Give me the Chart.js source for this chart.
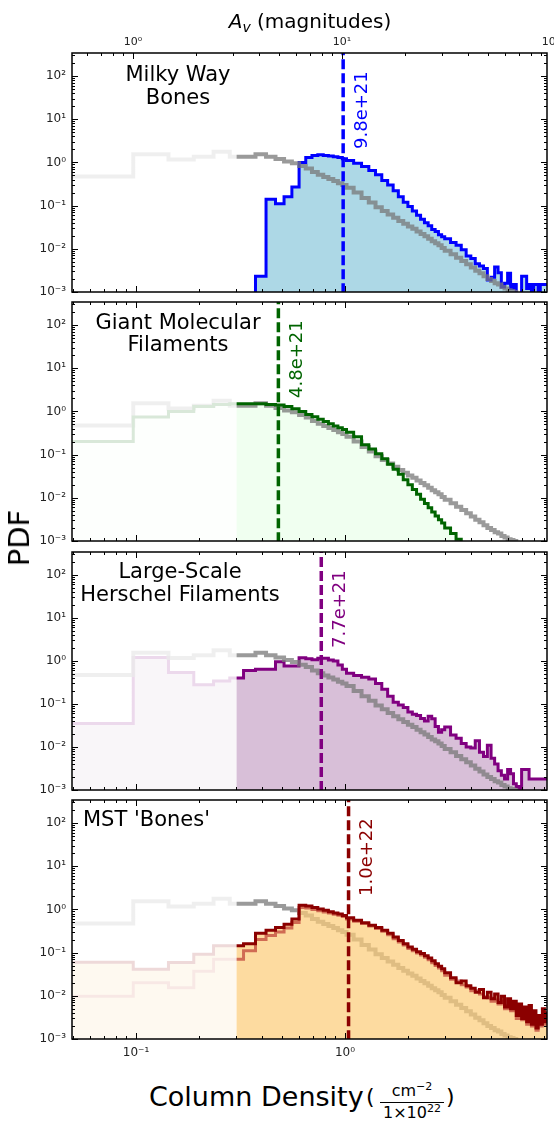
<!DOCTYPE html>
<html><head><meta charset="utf-8">
<script src="https://cdn.jsdelivr.net/npm/chart.js@4.4.1/dist/chart.umd.min.js"></script>
<style>
html,body{margin:0;padding:0;background:#fff;}
body{width:554px;height:1124px;position:relative;overflow:hidden;font-family:"DejaVu Sans",sans-serif;}
canvas{position:absolute;left:0;}
.lbl{position:absolute;white-space:nowrap;color:#000;}
</style></head><body>
<canvas id="c0" width="554" height="305" style="top:0px"></canvas>
<canvas id="c1" width="554" height="264" style="top:290px"></canvas>
<canvas id="c2" width="554" height="263" style="top:540px"></canvas>
<canvas id="c3" width="554" height="282" style="top:788px"></canvas>

<div class="lbl" style="left:0;width:620px;top:8px;text-align:center;font-size:20px;line-height:26px;"><i>A</i><i style="font-size:14px;position:relative;top:4px;">v</i> (magnitudes)</div>
<div class="lbl" style="left:19px;top:538px;transform:translate(-50%,-50%) rotate(-90deg);font-size:29px;line-height:34px;">PDF</div>
<div class="lbl" style="left:149px;top:1081px;font-size:27px;line-height:32px;">Column Density</div>
<div class="lbl" style="left:366px;top:1083px;font-size:22px;line-height:28px;">(</div>
<div class="lbl" style="left:380px;top:1082px;width:64px;text-align:center;font-size:16px;">
  <div style="line-height:18px;">cm<span style="font-size:11px;position:relative;top:-6px;">−2</span></div>
  <div style="line-height:18px;border-top:1px solid #000;padding-top:1px;">1×10<span style="font-size:11px;position:relative;top:-6px;">22</span></div>
</div>
<div class="lbl" style="left:446px;top:1083px;font-size:22px;line-height:28px;">)</div>

<script>
// ---------------- data ----------------
const binEdges = [0.04, 0.097, 0.143, 0.189, 0.235, 0.281, 0.327, 0.373, 0.419, 0.465,
  0.511, 0.557, 0.603, 0.649, 0.695, 0.741, 0.787, 0.833, 0.879, 0.925,
  0.971, 1.017, 1.1, 1.2, 1.3, 1.4, 1.5, 1.6, 1.7, 1.8,
  1.9, 2.0, 2.1, 2.2, 2.3, 2.4, 2.5, 2.6, 2.7, 2.8,
  2.9, 3.0, 3.2, 3.4, 3.6, 3.8, 4.0, 4.2, 4.4, 4.6,
  4.8, 5.0, 5.2, 5.4, 5.6, 5.8, 6.0, 6.2, 6.4, 6.6,
  6.8, 7.0, 7.2, 7.4, 7.6, 7.8, 8.0, 8.2, 8.4, 8.6,
  8.8, 9.0, 9.2, 9.4];

const allPDF = [0.47, 1.55, 1.17, 1.35, 1.76, 1.35, 1.35, 1.55, 1.35, 1.2,
  1.05, 0.95, 0.82, 0.72, 0.6, 0.52, 0.46, 0.41, 0.37, 0.33,
  0.3, 0.26, 0.2, 0.15, 0.118, 0.092, 0.075, 0.062, 0.052, 0.044,
  0.038, 0.033, 0.029, 0.025, 0.022, 0.0195, 0.017, 0.015, 0.0135, 0.012,
  0.0105, 0.009, 0.0075, 0.0062, 0.0052, 0.0044, 0.0037, 0.0031, 0.0027, 0.0023,
  0.002, 0.0018, 0.0016, 0.0015, 0.0013, 0.0012, 0.0011, 0.00105, 0.001, 0.0009,
  0.00085, 0.0007, 0.0004, 0.0004, 0.0004, 0.0004, 0.0004, 0.0004, 0.0004, 0.0004,
  0.0004, 0.0004, 0.0004];

const bonesPDF = [null, null, null, null, null, null, 0.0001, 0.0023, 0.14, 0.11,
  0.16, 0.27, 1.0, 1.3, 1.45, 1.5, 1.45, 1.4, 1.35, 1.3,
  1.22, 1.1, 0.95, 0.8, 0.65, 0.52, 0.38, 0.3, 0.22, 0.16,
  0.12, 0.095, 0.075, 0.06, 0.048, 0.04, 0.034, 0.028, 0.025, 0.021,
  0.019, 0.017, 0.014, 0.012, 0.0095, 0.0068, 0.006, 0.0045, 0.004, 0.0035,
  0.0019, 0.0022, 0.0038, 0.0028, 0.0013, 0.0016, 0.0027, 0.0012, 0.0015, 0.0004,
  0.0004, 0.0023, 0.0023, 0.0012, 0.0015, 0.0004, 0.0015, 0.0015, 0.0004, 0.0015,
  0.0015, 0.0015, 0.0015];

const gmfPDF = [0.2, 0.74, 1.0, 1.3, 1.45, 1.5, 1.5, 1.5, 1.45, 1.4,
  1.3, 1.15, 1.0, 0.85, 0.75, 0.66, 0.58, 0.52, 0.46, 0.42,
  0.38, 0.33, 0.26, 0.17, 0.135, 0.105, 0.08, 0.06, 0.046, 0.035,
  0.026, 0.02, 0.0155, 0.012, 0.0093, 0.0074, 0.0059, 0.0047, 0.0038, 0.0031,
  0.0026, 0.002, 0.0015, 0.0011, 0.0009, 0.0004, 0.0004, 0.0004, 0.0004, 0.0004,
  0.0004, 0.0004, 0.0004, 0.0004, 0.0004, 0.0004, 0.0004, 0.0004, 0.0004, 0.0004,
  0.0004, 0.0004, 0.0004, 0.0004, 0.0004, 0.0004, 0.0004, 0.0004, 0.0004, 0.0004,
  0.0004, 0.0004, 0.0004];

const herschelPDF = [0.035, 1.2, 0.54, 0.28, 0.34, 0.4, 0.6, 0.64, 0.64, 0.96,
  0.76, 0.76, 1.19, 1.12, 1.06, 1.15, 1.15, 1.05, 1.0, 0.8,
  0.64, 0.52, 0.46, 0.42, 0.38, 0.3, 0.22, 0.15, 0.11, 0.095,
  0.083, 0.065, 0.058, 0.054, 0.046, 0.04, 0.052, 0.045, 0.03, 0.022,
  0.025, 0.029, 0.019, 0.016, 0.012, 0.01, 0.0095, 0.014, 0.0075, 0.006,
  0.011, 0.0055, 0.004, 0.0028, 0.0022, 0.0018, 0.003, 0.0024, 0.0014, 0.0012,
  0.0011, 0.003, 0.003, 0.003, 0.0018, 0.0018, 0.0018, 0.0018, 0.0018, 0.0018,
  0.0018, 0.0018, 0.0018];

const mstPDF_A = [0.06, 0.041, 0.059, 0.092, 0.143, 0.143, 0.16, 0.28, 0.33, 0.38,
  0.45, 0.6, 1.25, 1.2, 1.1, 1.02, 0.95, 0.88, 0.82, 0.78,
  0.72, 0.64, 0.56, 0.49, 0.43, 0.38, 0.33, 0.28, 0.23, 0.19,
  0.16, 0.135, 0.12, 0.105, 0.095, 0.085, 0.075, 0.065, 0.055, 0.048,
  0.042, 0.034, 0.026, 0.02, 0.022, 0.017, 0.015, 0.012, 0.014, 0.009,
  0.012, 0.0085, 0.011, 0.007, 0.0098, 0.0055, 0.0085, 0.005, 0.0075, 0.0035,
  0.0065, 0.003, 0.0055, 0.0025, 0.006, 0.0022, 0.0045, 0.0018, 0.0035, 0.0022,
  0.005, 0.0025, 0.004];

const mstPDF_B = [0.0098, 0.02, 0.0154, 0.037, 0.07, 0.07, 0.11, 0.2, 0.25, 0.3,
  0.37, 0.5, 1.1, 1.08, 1.0, 0.93, 0.87, 0.82, 0.77, 0.73,
  0.68, 0.6, 0.53, 0.47, 0.41, 0.36, 0.31, 0.26, 0.21, 0.175,
  0.15, 0.125, 0.11, 0.098, 0.088, 0.078, 0.068, 0.058, 0.05, 0.044,
  0.038, 0.03, 0.024, 0.022, 0.018, 0.016, 0.013, 0.013, 0.011, 0.0095,
  0.009, 0.0075, 0.008, 0.0065, 0.0075, 0.005, 0.006, 0.0045, 0.005, 0.003,
  0.0045, 0.0028, 0.0038, 0.0022, 0.0042, 0.002, 0.003, 0.0016, 0.0025, 0.002,
  0.0035, 0.0022, 0.003];

const medianN = [0.98, 0.48, 0.77, 1.04];
const medianLabels = ['9.8e+21', '4.8e+21', '7.7e+21', '1.0e+22'];
const panelTitles = [['Milky Way', 'Bones'], ['Giant Molecular', 'Filaments'], ['Large-Scale', 'Herschel Filaments'], ["MST 'Bones'"]];
const yTickValues = [1e-3, 1e-2, 1e-1, 1, 10, 100];
const yTickLabels = ['10⁻³', '10⁻²', '10⁻¹', '10⁰', '10¹', '10²'];
const xTickValues = [0.1, 1];
const xTickLabels = ['10⁻¹', '10⁰'];
const avTickValues = [1, 10, 100];
const avTickLabels = ['10⁰', '10¹', '10²'];
const thresholdN = 0.303;

// ---------------- style / layout ----------------
const X_MIN = 0.0494, X_MAX = 9.26, Y_MIN = 1e-3, Y_MAX = 340;
const AV_PER_N = 10.34;
const GRAY = 'rgba(120,120,120,0.75)';
const medianColors = ['#0000ff', '#006400', '#800080', '#8b0000'];
const titleStyle = [
  {x: 178, ys: [23, 46], align: 'center'},
  {x: 178, ys: [22, 44], align: 'center'},
  {x: 180, ys: [21, 44], align: 'center'},
  {x: 83, ys: [21], align: 'left'}
];
const panelLayout = [
  {id: 'c0', pt: 0, pb: 13},
  {id: 'c1', pt: 12, pb: 13},
  {id: 'c2', pt: 12, pb: 13},
  {id: 'c3', pt: 12, pb: 0}
];

Chart.defaults.font.family = '"DejaVu Sans", sans-serif';
Chart.defaults.animation = false;

function stepPoints(vals) {
  return binEdges.map((e, i) => ({x: e, y: vals[Math.min(i, vals.length - 1)]}));
}
function lineDS(vals, color, width) {
  return {data: stepPoints(vals), borderColor: color, borderWidth: width, backgroundColor: 'transparent',
    fill: false, stepped: true, pointRadius: 0, pointHoverRadius: 0, clip: 0,
    borderJoinStyle: 'miter', borderCapStyle: 'butt', xAxisID: 'x', yAxisID: 'y'};
}
function fillDS(vals, color) {
  return {data: stepPoints(vals), borderColor: 'transparent', borderWidth: 0, backgroundColor: color,
    fill: 'start', stepped: true, pointRadius: 0, pointHoverRadius: 0, clip: 0, xAxisID: 'x', yAxisID: 'y'};
}
function medianDS(i) {
  return {data: [{x: medianN[i], y: 1e-4}, {x: medianN[i], y: 1e3}], borderColor: medianColors[i],
    borderWidth: 3.5, borderDash: [10, 4], pointRadius: 0, fill: false, clip: 0, xAxisID: 'x', yAxisID: 'y'};
}

function logTicks(min, max) {
  const out = [];
  for (let e = Math.floor(Math.log10(min)); e <= Math.ceil(Math.log10(max)); e++) {
    for (let k = 1; k <= 9; k++) {
      const v = k * Math.pow(10, e);
      if (v >= min * 0.9999 && v <= max * 1.0001) out.push({v: v, major: k === 1});
    }
  }
  return out;
}

const panelDeco = {
  id: 'panelDeco',
  afterDatasetsDraw(chart, args, opts) {
    const a = chart.chartArea, xs = chart.scales.x, ctx = chart.ctx;
    const xr = xs.getPixelForValue(thresholdN);
    ctx.save();
    ctx.fillStyle = 'rgba(255,255,255,0.85)';
    ctx.fillRect(a.left, a.top, xr - a.left, a.bottom - a.top);
    ctx.restore();
  },
  afterDraw(chart, args, opts) {
    const i = opts.idx;
    const a = chart.chartArea, ctx = chart.ctx, xs = chart.scales.x, ys = chart.scales.y;
    const tops = chart.scales.xTop || xs;
    ctx.save();
    ctx.strokeStyle = '#000';
    ctx.lineWidth = 1;
    const seg = (x1, y1, x2, y2) => { ctx.beginPath(); ctx.moveTo(x1, y1); ctx.lineTo(x2, y2); ctx.stroke(); };
    logTicks(ys.min, ys.max).forEach(t => {
      const p = Math.round(ys.getPixelForValue(t.v)) + 0.5;
      const len = t.major ? 6 : 3;
      seg(a.left, p, a.left + len, p);
      seg(a.right, p, a.right - len, p);
    });
    logTicks(xs.min, xs.max).forEach(t => {
      const p = Math.round(xs.getPixelForValue(t.v)) + 0.5;
      const len = t.major ? 6 : 3;
      seg(p, a.bottom, p, a.bottom - len);
    });
    logTicks(tops.min, tops.max).forEach(t => {
      const p = Math.round(tops.getPixelForValue(t.v)) + 0.5;
      const len = t.major ? 6 : 3;
      seg(p, a.top, p, a.top + len);
    });
    ctx.lineWidth = 1.5;
    ctx.strokeRect(a.left, a.top, a.right - a.left, a.bottom - a.top);

    // panel title
    const ts = titleStyle[i];
    ctx.fillStyle = '#000';
    ctx.font = '21px "DejaVu Sans"';
    ctx.textBaseline = 'middle';
    ctx.textAlign = ts.align;
    panelTitles[i].forEach((line, k) => ctx.fillText(line, ts.x, a.top + ts.ys[k]));

    // median label (rotated)
    const mx = xs.getPixelForValue(medianN[i]);
    ctx.translate(mx + 19, a.top + 96);
    ctx.rotate(-Math.PI / 2);
    ctx.font = '18px "DejaVu Sans"';
    ctx.fillStyle = medianColors[i];
    ctx.textAlign = 'left';
    ctx.textBaseline = 'middle';
    ctx.fillText(medianLabels[i], 0, 0);
    ctx.restore();
  }
};

function yScale() {
  return {
    type: 'logarithmic', position: 'left', min: Y_MIN, max: Y_MAX, bounds: 'data',
    grid: {display: false, drawTicks: false}, border: {display: false},
    afterBuildTicks: s => { s.ticks = yTickValues.map(v => ({value: v})); },
    afterFit: s => { s.width = 72; s.paddingTop = 0; s.paddingBottom = 0; },
    ticks: {autoSkip: false, padding: 6, color: '#222', font: {size: 12},
      callback: v => yTickLabels[yTickValues.indexOf(v)]}
  };
}
function xScale(show) {
  return {
    type: 'logarithmic', position: 'bottom', min: X_MIN, max: X_MAX, bounds: 'data', display: show,
    grid: {display: false, drawTicks: false}, border: {display: false},
    afterBuildTicks: s => { s.ticks = xTickValues.map(v => ({value: v})); },
    afterFit: s => { s.height = show ? 31 : 0; s.paddingLeft = 0; s.paddingRight = 0; },
    ticks: {autoSkip: false, maxRotation: 0, padding: 7, color: '#222', font: {size: 12},
      callback: v => xTickLabels[xTickValues.indexOf(v)]}
  };
}
function avScale() {
  return {
    type: 'logarithmic', axis: 'x', position: 'top', min: X_MIN * AV_PER_N, max: X_MAX * AV_PER_N, bounds: 'data',
    grid: {display: false, drawTicks: false}, border: {display: false},
    afterBuildTicks: s => { s.ticks = avTickValues.map(v => ({value: v})); },
    afterFit: s => { s.height = 53; s.paddingLeft = 0; s.paddingRight = 0; },
    ticks: {autoSkip: false, maxRotation: 0, padding: 4, color: '#222', font: {size: 11},
      callback: v => avTickLabels[avTickValues.indexOf(v)]}
  };
}

const panelDatasets = [
  [medianDS(0), lineDS(allPDF, GRAY, 4), lineDS(bonesPDF, '#0000ff', 3), fillDS(bonesPDF, '#add8e6')],
  [medianDS(1), lineDS(gmfPDF, '#006400', 3), lineDS(allPDF, GRAY, 4), fillDS(gmfPDF, '#f0fff0')],
  [medianDS(2), lineDS(allPDF, GRAY, 4), lineDS(herschelPDF, '#800080', 3), fillDS(herschelPDF, '#d8bfd8')],
  [medianDS(3), lineDS(mstPDF_A, '#8b0000', 3), lineDS(mstPDF_B, 'rgba(178,34,34,0.6)', 3),
    fillDS(mstPDF_A, 'rgba(252,204,119,0.7)'), lineDS(allPDF, GRAY, 4)]
];

panelLayout.forEach((pl, i) => {
  const scales = {x: xScale(i === 3), y: yScale()};
  if (i === 0) scales.xTop = avScale();
  new Chart(document.getElementById(pl.id), {
    type: 'line',
    data: {datasets: panelDatasets[i]},
    options: {
      responsive: false, maintainAspectRatio: false, devicePixelRatio: 1, animation: false,
      layout: {padding: {top: pl.pt, bottom: pl.pb, left: 0, right: 7}},
      scales: scales,
      plugins: {legend: {display: false}, tooltip: {enabled: false}, panelDeco: {idx: i}},
      events: []
    },
    plugins: [panelDeco]
  });
});
</script>
</body></html>
